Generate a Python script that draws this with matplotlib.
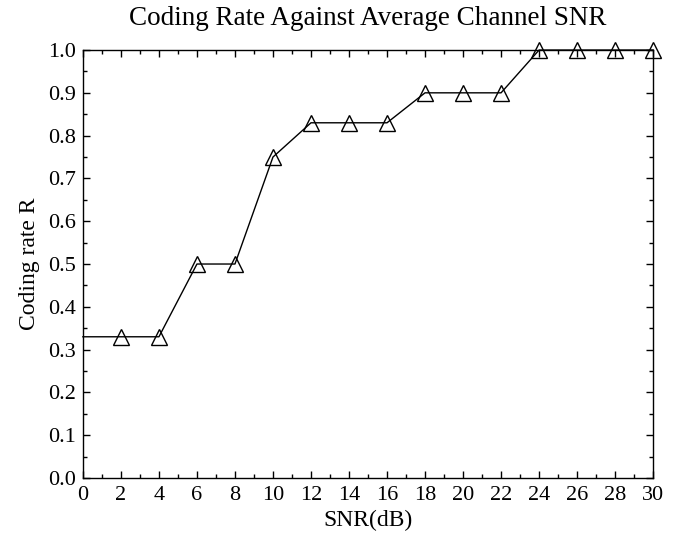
import matplotlib
matplotlib.use('Agg')
import matplotlib.pyplot as plt
from matplotlib.ticker import MultipleLocator

# SNR sweep and the coding rate chosen at each point
snr_db = [0, 2, 4, 6, 8, 10, 12, 14, 16, 18, 20, 22, 24, 26, 28, 30]
coding_rate = [0.33, 0.33, 0.33, 0.5, 0.5, 0.75, 0.83, 0.83, 0.83,
               0.9, 0.9, 0.9, 1.0, 1.0, 1.0, 1.0]

plt.rcParams['font.family'] = ['Liberation Serif', 'DejaVu Serif']
plt.rcParams['mathtext.fontset'] = 'stix'

fig = plt.figure(figsize=(6.74, 5.38), dpi=100)
ax = fig.add_axes([0.123, 0.1115, 0.846, 0.7955])

# first point has no marker, only the line starts there
ax.plot(snr_db, coding_rate, color='black', linewidth=1.0,
        marker='^', markersize=11, markerfacecolor='none',
        markeredgecolor='black', markeredgewidth=1.0,
        markevery=list(range(1, len(snr_db))), clip_on=False, zorder=3)

ax.set_xlim(0, 30)
ax.set_ylim(0, 1.0)
ax.xaxis.set_major_locator(MultipleLocator(2))
ax.xaxis.set_minor_locator(MultipleLocator(1))
ax.yaxis.set_major_locator(MultipleLocator(0.1))
ax.yaxis.set_minor_locator(MultipleLocator(0.05))
ax.yaxis.set_major_formatter(plt.FuncFormatter(lambda v, p: f'{v:.1f}'))

ax.tick_params(which='both', direction='in', top=True, right=True,
               labelsize=16, width=1.0)
ax.tick_params(which='major', length=5)
ax.tick_params(which='minor', length=3)
ax.tick_params(axis='x', pad=6)
ax.tick_params(axis='y', pad=5)
for s in ax.spines.values():
    s.set_linewidth(1.0)

ax.set_xlabel('SNR(dB)', fontsize=17, labelpad=3)
ax.set_ylabel('Coding rate R', fontsize=17, labelpad=6)
ax.set_title('Coding Rate Against Average Channel SNR', fontsize=19.5, pad=18)

fig.savefig('out.png', dpi=100)
